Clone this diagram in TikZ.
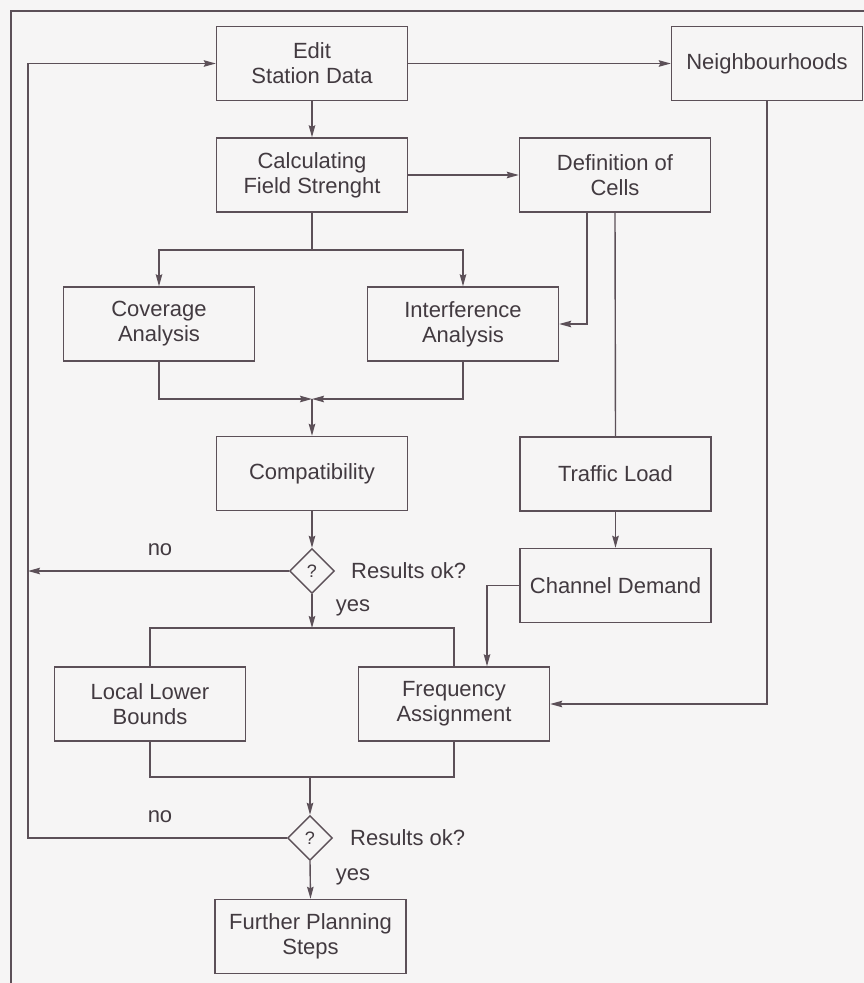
\documentclass[tikz,border=0pt]{standalone}
\usepackage{fontspec}
\setmainfont{Liberation Sans}
\usetikzlibrary{arrows.meta,shapes.geometric}
\definecolor{linec}{RGB}{92,80,88}
\definecolor{textc}{RGB}{66,58,64}
\definecolor{bgc}{RGB}{246,245,245}
\tikzset{
  box/.style={draw=linec, line width=1.4pt, rectangle, minimum width=191pt, minimum height=74pt,
    align=center, inner sep=2pt, font=\fontsize{22}{25}\selectfont, text=textc},
  dec/.style={draw=linec, line width=1.4pt, diamond, minimum width=45pt, minimum height=45pt,
    inner sep=0pt, font=\fontsize{18}{20}\selectfont, text=textc},
  lbl/.style={font=\fontsize{22}{25}\selectfont, text=textc, inner sep=0pt},
  conn/.style={draw=linec, line width=1.4pt},
  arr/.style={conn, -{Stealth[length=12pt,width=6.5pt,inset=1.5pt]}},
}
\begin{document}
\begin{tikzpicture}[x=1pt,y=-1pt]
\fill[bgc] (0,0) rectangle (864,983);
\useasboundingbox (0,0) rectangle (864,983);

% frame
\draw[conn] (864,11) -- (11,11) -- (11,983);

% nodes
\node[box] (edit)    at (312,63.5)   {Edit\\Station Data};
\node[box] (neigh)   at (767,63.5)   {Neighbourhoods};
\node[box] (calc)    at (312,175)    {Calculating\\Field Strenght};
\node[box] (cells)   at (615,175)    {Definition of\\Cells};
\node[box] (cov)     at (159,324)    {Coverage\\Analysis};
\node[box] (interf)  at (463,324)    {Interference\\Analysis};
\node[box] (compat)  at (312,473.5)  {Compatibility};
\node[box] (traffic) at (615.5,474)  {Traffic Load};
\node[box] (chan)    at (615.5,585.5){Channel Demand};
\node[dec] (d1)      at (312,571)    {?};
\node[box] (llb)     at (150,704)    {Local Lower\\Bounds};
\node[box] (freq)    at (454,704)    {Frequency\\Assignment};
\node[dec] (d2)      at (310,838)    {?};
\node[box] (further) at (310.5,936.5){Further Planning\\Steps};

% labels
\node[lbl] (no1)  at (160,550) {no};
\node[lbl, anchor=west] (ok1) at (351,571) {Results ok?};
\node[lbl] (yes1) at (353,608) {yes};
\node[lbl] (no2)  at (160,817) {no};
\node[lbl, anchor=west] (ok2) at (350,838) {Results ok?};
\node[lbl] (yes2) at (353,877) {yes};

% coordinates
\coordinate (loopB) at (28,838);
\coordinate (loopT) at (28,63.5);
\coordinate (noEnd) at (28,571);
\coordinate (s1) at (312,250);
\coordinate (j1) at (312,399);
\coordinate (j2) at (312,628);
\coordinate (j3) at (310,777);

% connectors
\draw[arr] (d2.west) -- (loopB) -- (loopT) -- (edit.west);
\draw[arr] (d1.west) -- (noEnd);
\draw[arr] (edit.east) -- (neigh.west);
\draw[arr] (edit.south) -- (calc.north);
\draw[arr] (calc.east) -- (cells.west);
\draw[conn] (calc.south) -- (s1);
\draw[arr] (s1) -| (cov.north);
\draw[arr] (s1) -| (interf.north);
\draw[arr] ([xshift=-28pt]cells.south) |- (interf.east);
\draw[conn] (cells.south) -- (traffic.north);
\draw[arr] (cov.south) |- (j1);
\draw[arr] (interf.south) |- (j1);
\draw[arr] (j1) -- (compat.north);
\draw[arr] (compat.south) -- (d1.north);
\draw[arr] (d1.south) -- (j2);
\draw[conn] (llb.north) -- (llb.north |- j2) -- (freq.north |- j2) -- (freq.north);
\draw[arr] (traffic.south) -- (chan.north);
\draw[arr] (chan.west) -| ([xshift=33pt]freq.north);
\draw[arr] (neigh.south) |- (freq.east);
\draw[conn] (llb.south) -- (llb.south |- j3) -- (freq.south |- j3) -- (freq.south);
\draw[arr] (j3) -- (d2.north);
\draw[arr] (d2.south) -- (further.north);
\end{tikzpicture}
\end{document}
